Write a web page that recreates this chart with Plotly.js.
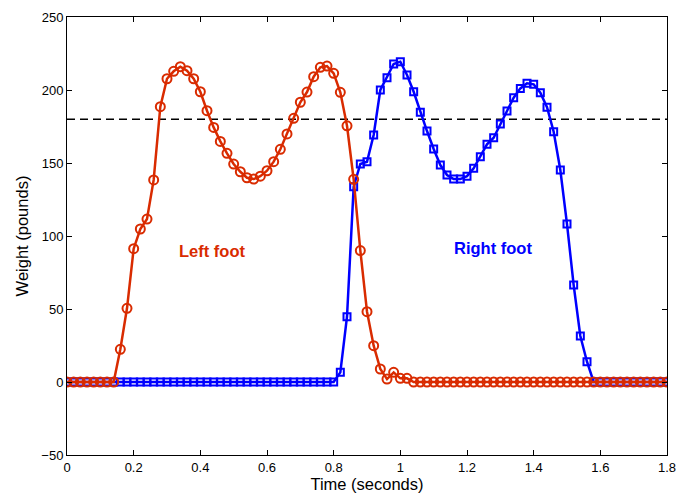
<!DOCTYPE html>
<html>
<head>
<meta charset="utf-8">
<script src="https://cdn.plot.ly/plotly-3.0.1.min.js"></script>
<style>html,body{margin:0;padding:0;background:#fff;}#chart{width:676px;height:495px;}</style>
</head>
<body>
<div id="chart"></div>
<script>
// Time samples every 0.02 s from 0 to 1.8 s (91 samples)
const time = [0,0.02,0.04,0.06,0.08,0.10,0.12,0.14,0.16,0.18,0.20,0.22,0.24,0.26,0.28,0.30,0.32,0.34,0.36,0.38,0.40,0.42,0.44,0.46,0.48,0.50,0.52,0.54,0.56,0.58,0.60,0.62,0.64,0.66,0.68,0.70,0.72,0.74,0.76,0.78,0.80,0.82,0.84,0.86,0.88,0.90,0.92,0.94,0.96,0.98,1.00,1.02,1.04,1.06,1.08,1.10,1.12,1.14,1.16,1.18,1.20,1.22,1.24,1.26,1.28,1.30,1.32,1.34,1.36,1.38,1.40,1.42,1.44,1.46,1.48,1.50,1.52,1.54,1.56,1.58,1.60,1.62,1.64,1.66,1.68,1.70,1.72,1.74,1.76,1.78,1.80];

const leftFoot = [0,0,0,0,0,0,0,0,22.4,50.5,91.3,104.8,111.6,138.4,188.6,207.7,212.8,216,213.2,207.7,198.8,185.8,174.4,164.8,156.6,149.3,144,139.9,139,141,144.7,150.9,159.4,169.9,180.6,191.6,198.6,209.1,215.5,216.4,211.4,198.4,175.5,138.8,90,48.2,24.9,8.9,2,6.6,2.5,2.5,0,0,0,0,0,0,0,0,0,0,0,0,0,0,0,0,0,0,0,0,0,0,0,0,0,0,0,0,0,0,0,0,0,0,0,0,0,0,0];

const rightFoot = [0,0,0,0,0,0,0,0,0,0,0,0,0,0,0,0,0,0,0,0,0,0,0,0,0,0,0,0,0,0,0,0,0,0,0,0,0,0,0,0,0,6.6,44.7,133.8,149.3,150.9,169.2,200,208.4,217.8,219.4,210.3,198.8,184.7,171.9,159.6,148.6,141.8,139,139,141,146.4,154.3,162.8,167.3,176.7,185.6,194.7,201.1,204.6,203.9,198.2,188.2,171.4,145.2,108.2,66.4,31.5,13.9,0,0,0,0,0,0,0,0,0,0,0,0];

const thresholdX = [0, 1.8];
const thresholdY = [180, 180];

const xTickVals = [0, 0.2, 0.4, 0.6, 0.8, 1, 1.2, 1.4, 1.6, 1.8];
const xTickText = ['0', '0.2', '0.4', '0.6', '0.8', '1', '1.2', '1.4', '1.6', '1.8'];
const yTickVals = [-50, 0, 50, 100, 150, 200, 250];

const labels = [
  {text: 'Left foot', x: 0.436, y: 90, color: 'rgb(217,43,0)'},
  {text: 'Right foot', x: 1.277, y: 91.5, color: 'rgb(0,0,255)'}
];

const red = 'rgb(217,43,0)';
const blue = 'rgb(0,0,255)';

const traces = [
  {x: thresholdX, y: thresholdY, mode: 'lines', line: {color: '#000', width: 1.5, dash: '8px,5px'}, hoverinfo: 'skip'},
  {x: time, y: rightFoot, mode: 'lines+markers', line: {color: blue, width: 2.5},
   marker: {symbol: 'square-open', size: 7, color: blue, line: {width: 2, color: blue}}},
  {x: time, y: leftFoot, mode: 'lines+markers', line: {color: red, width: 2.5},
   marker: {symbol: 'circle-open', size: 9, color: red, line: {width: 2, color: red}}}
];

const layout = {
  width: 676, height: 495,
  margin: {l: 67, r: 9, t: 17, b: 40},
  showlegend: false,
  paper_bgcolor: '#fff', plot_bgcolor: '#fff',
  font: {family: 'Liberation Sans, Arial, sans-serif', size: 13, color: '#000'},
  xaxis: {
    range: [0, 1.80001], tickmode: 'array', tickvals: xTickVals, ticktext: xTickText,
    ticks: 'inside', ticklen: 5, tickcolor: '#000', ticklabeloverflow: 'allow',
    showline: true, linecolor: '#000', linewidth: 1, mirror: 'ticks', showgrid: false, zeroline: false,
    title: {text: 'Time (seconds)', font: {size: 16.5}, standoff: 4},
    tickfont: {size: 13}
  },
  yaxis: {
    range: [-50, 250], tickmode: 'array', tickvals: yTickVals,
    ticks: 'inside', ticklen: 5, tickcolor: '#000',
    showline: true, linecolor: '#000', linewidth: 1, mirror: 'ticks', showgrid: false, zeroline: false,
    title: {text: 'Weight (pounds)', font: {size: 16.5}, standoff: 8},
    tickfont: {size: 13}
  },
  annotations: labels.map(l => ({
    x: l.x, y: l.y, xref: 'x', yref: 'y', text: '<b>' + l.text + '</b>', showarrow: false,
    font: {size: 16.5, color: l.color, family: 'Liberation Sans, Arial, sans-serif'}
  }))
};

Plotly.newPlot('chart', traces, layout, {displayModeBar: false, staticPlot: true});
</script>
</body>
</html>
